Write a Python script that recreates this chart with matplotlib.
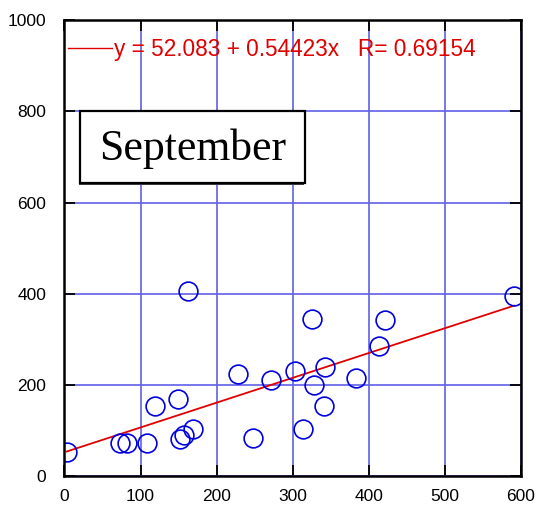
import matplotlib
matplotlib.use("Agg")
import matplotlib.pyplot as plt
from matplotlib.patches import Rectangle
import numpy as np

# September observations
x_vals = [3, 73, 82, 109, 119, 149, 152, 157, 169, 163, 228, 248, 271,
          303, 326, 328, 343, 341, 313, 383, 413, 421, 591]
y_vals = [52, 72, 72, 72, 153, 169, 81, 89, 103, 405, 224, 83, 211,
          231, 344, 200, 239, 153, 103, 214, 286, 342, 395]

# linear fit coefficients
intercept = 52.083
slope = 0.54423
r_value = 0.69154
month = "September"

plt.rcParams["font.family"] = ["Liberation Sans", "DejaVu Sans"]

fig = plt.figure(figsize=(5.37, 5.05), dpi=100)
ax = fig.add_axes([0.120, 0.0574, 0.850, 0.9026])

ax.set_xlim(0, 600)
ax.set_ylim(0, 1000)
ax.set_xticks(np.arange(0, 601, 100))
ax.set_yticks(np.arange(0, 1001, 200))

ax.grid(True, color="#6060e6", linestyle="-", linewidth=1.2)
ax.set_axisbelow(True)

fit_x = np.array([min(x_vals), max(x_vals)])
fit_y = intercept + slope * fit_x
ax.plot(fit_x, fit_y, color="#e00000", linewidth=1.3, zorder=3)

ax.plot(x_vals, y_vals, linestyle="none", marker="o", markersize=13.5,
        markerfacecolor="none", markeredgecolor="#0000e0",
        markeredgewidth=1.2, zorder=4)

# legend line and equation
ax.plot([5, 62], [938, 938], color="#e00000", linewidth=1.0, zorder=5)
ax.text(65, 936,
        f"y = {intercept:.3f} + {slope:.5f}x   R= {r_value:.5f}",
        color="#e00000", fontsize=16.3, va="center", ha="left", zorder=5)

# month label box with a thin shadow
ax.add_patch(Rectangle((18.5, 639), 296, 158, facecolor="#404040",
                       edgecolor="none", zorder=5))
ax.add_patch(Rectangle((20.5, 642), 296, 158, facecolor="white",
                       edgecolor="black", linewidth=1.6, zorder=6))
ax.text(168, 718, month, family=["Liberation Serif"], fontsize=31.5,
        va="center", ha="center", zorder=7)

for side in ["left", "right", "top", "bottom"]:
    ax.spines[side].set_linewidth(1.8)
    ax.spines[side].set_color("black")
    ax.spines[side].set_zorder(8)

ax.tick_params(direction="in", length=8, width=1.3, top=True, right=True,
               labelsize=12.5, colors="black")
ax.tick_params(axis="y", pad=13)
ax.tick_params(axis="x", pad=9)

fig.savefig("out.png", dpi=100)
